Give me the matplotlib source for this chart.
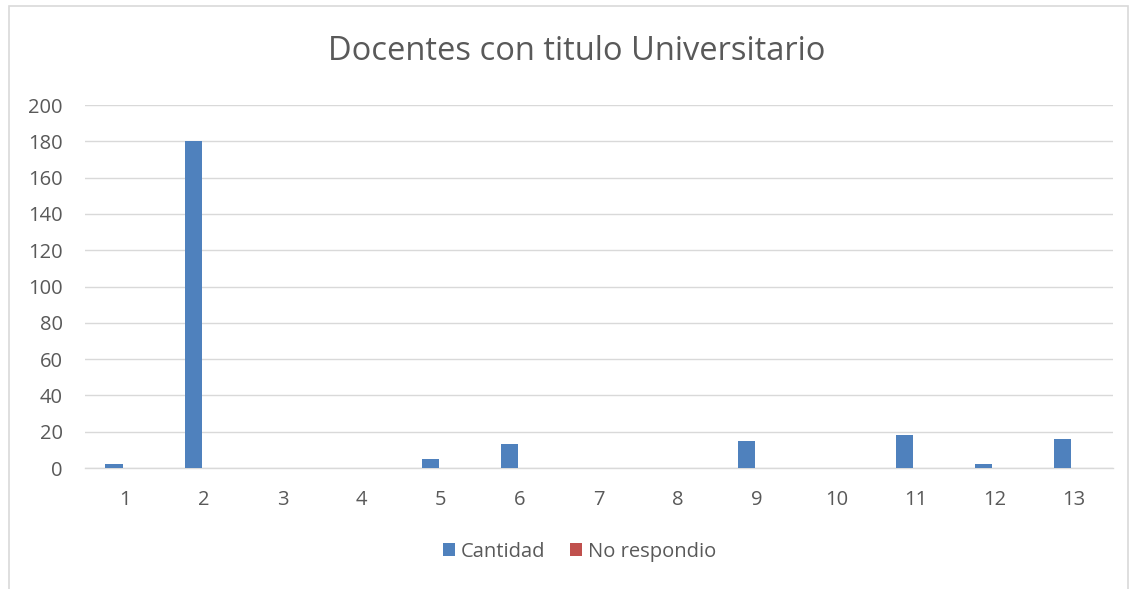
import matplotlib.pyplot as plt
import numpy as np
from matplotlib.patches import Rectangle

categories = ["1", "2", "3", "4", "5", "6", "7", "8", "9", "10", "11", "12", "13"]
cantidad = [2, 180, 0, 0, 5, 13, 0, 0, 15, 0, 18, 2, 16]
no_respondio = [0, 0, 0, 0, 0, 0, 0, 0, 0, 0, 0, 0, 0]

plt.rcParams["font.family"] = ["Open Sans", "DejaVu Sans"]
text_color = "#595959"

fig = plt.figure(figsize=(11.3, 5.89), dpi=100)
fig.patches.append(Rectangle((0.008, -0.01), 0.99, 1.0, transform=fig.transFigure,
                             fill=False, edgecolor="#d9d9d9", linewidth=1.2))
ax = fig.add_axes([0.0752, 0.2054, 0.9098, 0.6163])

x = np.arange(len(categories))
w = 0.215
ax.bar(x - 0.133, cantidad, width=w, color="#4f81bd", label="Cantidad", zorder=3)
ax.bar(x + 0.133, no_respondio, width=w, color="#c0504d", label="No respondio", zorder=3)

ax.set_xlim(-0.5, len(categories) - 0.5)
ax.set_ylim(0, 200)
ax.set_yticks(range(0, 201, 20))
ax.set_xticks(x)
ax.set_xticklabels(categories)
ax.yaxis.grid(True, color="#d9d9d9", linewidth=1.0, zorder=0)
for s in ["top", "right", "left"]:
    ax.spines[s].set_visible(False)
ax.spines["bottom"].set_color("#d9d9d9")
ax.spines["bottom"].set_linewidth(1.0)
ax.tick_params(length=0, labelsize=14.5, colors=text_color)
ax.tick_params(axis="x", pad=16)
ax.tick_params(axis="y", pad=16)

fig.text(0.51, 0.912, "Docentes con titulo Universitario", ha="center", va="center",
         fontsize=23.5, color=text_color)
fig.legend(loc="center", bbox_to_anchor=(0.513, 0.063), ncol=2, frameon=False,
           fontsize=14.5, labelcolor=text_color, handlelength=0.6, handleheight=0.6,
           handletextpad=0.3, columnspacing=1.2)

fig.savefig("out.png", dpi=100)
